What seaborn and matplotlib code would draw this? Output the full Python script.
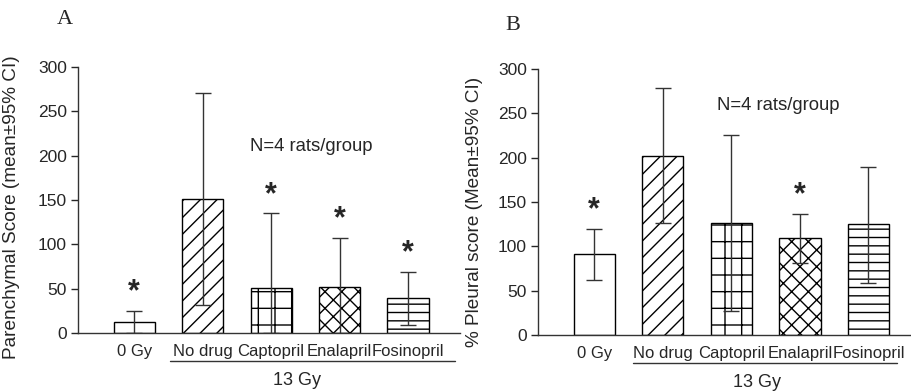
import numpy as np
import pandas as pd
import seaborn as sns
import matplotlib.pyplot as plt
from matplotlib import transforms

# data
groups = ["0 Gy", "No drug", "Captopril", "Enalapril", "Fosinopril"]
hatches = ["", "//", "+", "xx", "--"]

# panel A: parenchymal score
paren_mean = [12, 151, 51, 52, 39]
paren_low = [0, 32, 0, 0, 9]
paren_high = [25, 271, 135, 107, 69]
paren_star = [True, False, True, True, True]

# panel B: pleural score
pleur_mean = [91, 202, 126, 109, 125]
pleur_low = [62, 126, 27, 81, 59]
pleur_high = [120, 279, 225, 137, 190]
pleur_star = [True, False, False, True, False]

sns.set_style("white")
plt.rcParams['font.family'] = ['Liberation Sans', 'DejaVu Sans']
plt.rcParams['hatch.linewidth'] = 1.0

fig = plt.figure(figsize=(9.11, 3.92), dpi=100)
axA = fig.add_axes([0.0856, 0.1505, 0.4194, 0.6786])
axB = fig.add_axes([0.5906, 0.1454, 0.4094, 0.6786])


def draw_panel(ax, mean, low, high, star, ylabel, xlim, label_x, label_y):
    df = pd.DataFrame({"group": groups, "score": mean})
    sns.barplot(data=df, x="group", y="score", ax=ax, color="white",
                edgecolor="black", linewidth=1, width=0.6, saturation=1)
    for bar, h in zip(ax.patches, hatches):
        bar.set_hatch(h)
        bar.set_facecolor("white")
    x = np.arange(len(groups))
    m = np.array(mean)
    yerr = [m - np.array(low), np.array(high) - m]
    ax.errorbar(x, m, yerr=yerr, fmt="none", ecolor="#333333",
                elinewidth=1, capsize=6, capthick=1, zorder=5)
    # asterisks above the upper error bar
    for i, s in enumerate(star):
        if s:
            ax.text(x[i], high[i] + 4, "*", ha="center", va="bottom",
                    fontsize=22, fontweight="bold")
    ax.set_ylim(0, 300)
    ax.set_yticks(range(0, 301, 50))
    ax.set_xlim(*xlim)
    ax.set_xlabel("")
    ax.set_ylabel(ylabel, fontsize=13.7)
    ax.yaxis.set_label_coords(label_x, label_y)
    ax.tick_params(axis="y", labelsize=12.5, length=5, width=1,
                   direction="out", left=True, pad=3)
    ax.tick_params(axis="x", labelsize=12, length=0, pad=8)
    sns.despine(ax=ax)
    for sp in ["left", "bottom"]:
        ax.spines[sp].set_color("#333333")
        ax.spines[sp].set_linewidth(1)


draw_panel(axA, paren_mean, paren_low, paren_high, paren_star,
           "Parenchymal Score (mean±95% CI)", (-0.82, 4.76), -0.152, 0.474)
draw_panel(axB, pleur_mean, pleur_low, pleur_high, pleur_star,
           "% Pleural score (Mean±95% CI)", (-0.82, 4.62), -0.147, 0.464)

# group bracket under the 13 Gy bars
for ax, x0, x1, xc in [(axA, 0.53, 4.69, 2.38), (axB, 0.57, 4.41, 2.37)]:
    trans = transforms.blended_transform_factory(ax.transData, ax.transAxes)
    ax.plot([x0, x1], [-0.105, -0.105], color="#333333", lw=1,
            transform=trans, clip_on=False)
    ax.text(xc, -0.178, "13 Gy", transform=trans, ha="center", va="center",
            fontsize=13)

axA.text(2.58, 210, "N=4 rats/group", ha="center", va="center", fontsize=13.3)
axB.text(2.68, 259, "N=4 rats/group", ha="center", va="center", fontsize=13.3)

fig.text(57 / 911, 1 - 20 / 392, "A", fontsize=16,
         family=["Liberation Serif", "DejaVu Serif"], ha="left", va="center")
fig.text(505 / 911, 1 - 25 / 392, "B", fontsize=16,
         family=["Liberation Serif", "DejaVu Serif"], ha="left", va="center")

fig.savefig("out.png", dpi=100)
